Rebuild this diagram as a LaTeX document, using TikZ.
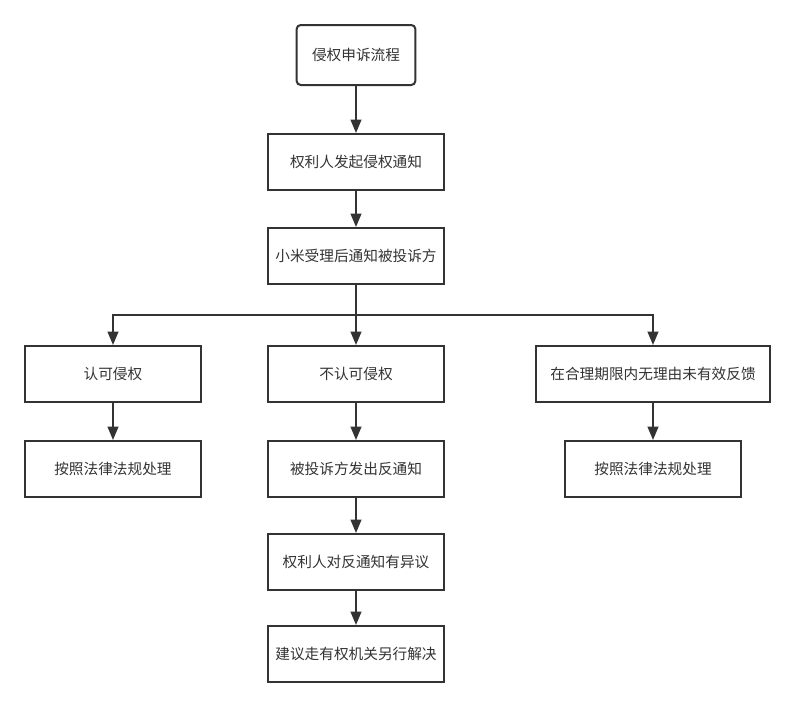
\documentclass[tikz,border=0pt]{standalone}
\usepackage{fontspec}
\setmainfont{Noto Sans CJK SC}
\usetikzlibrary{arrows.meta}
\definecolor{ink}{HTML}{333333}
\tikzset{
  box/.style={draw=ink, line width=1.5pt, fill=white, text=ink, inner sep=0pt,
    minimum height=42pt, minimum width=132pt, font=\fontsize{11pt}{13pt}\selectfont},
  conn/.style={draw=ink, line width=1.5pt},
  arr/.style={conn, -{Triangle[length=10pt,width=8pt]}},
}
\begin{document}
\begin{tikzpicture}[x=0.75pt,y=-0.75pt]
\useasboundingbox[fill=white] (0,0) rectangle (794,707);
\node[box, rounded corners=3pt, minimum width=89pt, minimum height=45pt] (top) at (356,55) {侵权申诉流程};
\node[box] (b2) at (356,162) {权利人发起侵权通知};
\node[box] (b3) at (356,256) {小米受理后通知被投诉方};
\node[box] (L1) at (113,374) {认可侵权};
\node[box] (L2) at (113,469) {按照法律法规处理};
\node[box] (M1) at (356,374) {不认可侵权};
\node[box] (M2) at (356,469) {被投诉方发出反通知};
\node[box] (M3) at (356,562) {权利人对反通知有异议};
\node[box] (M4) at (356,654) {建议走有权机关另行解决};
\node[box, minimum width=175pt] (R1) at (653,374) {在合理期限内无理由未有效反馈};
\node[box] (R2) at (653,469) {按照法律法规处理};
\coordinate (j) at (356,315);
\draw[arr] (top) -- (b2);
\draw[arr] (b2) -- (b3);
\draw[conn] (b3) -- (j);
\draw[arr] (j) -| (L1);
\draw[arr] (j) -- (M1);
\draw[arr] (j) -| (R1);
\draw[arr] (L1) -- (L2);
\draw[arr] (M1) -- (M2);
\draw[arr] (M2) -- (M3);
\draw[arr] (M3) -- (M4);
\draw[arr] (R1) -- (R2);
\end{tikzpicture}
\end{document}
